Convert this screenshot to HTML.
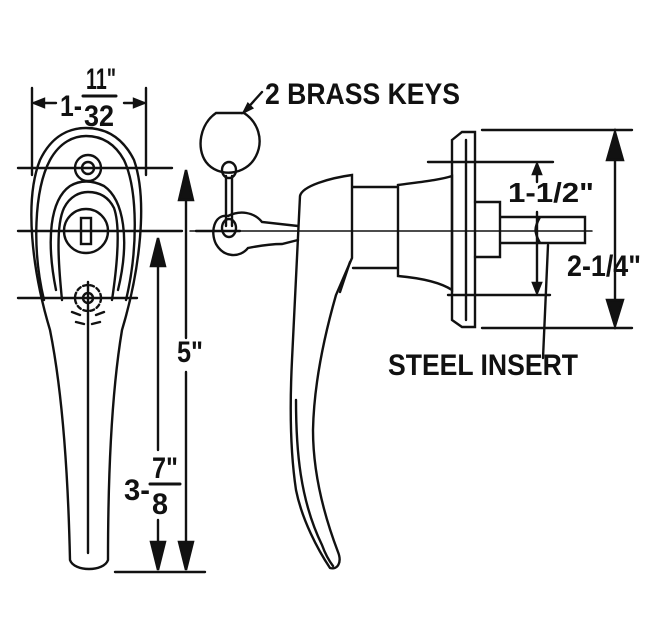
<!DOCTYPE html>
<html><head><style>html,body{margin:0;padding:0;background:#fff}svg{display:block}
text{font-family:"Liberation Sans Narrow","Liberation Sans",sans-serif;font-weight:bold;fill:#111}</style></head>
<body>
<svg width="650" height="641" viewBox="0 0 650 641" xmlns="http://www.w3.org/2000/svg" fill="none" stroke="#111" stroke-width="2.4" stroke-linecap="round">
<!-- LEFT VIEW -->
<path d="M70 560 C68 470 62 390 50 330 C32 270 24 200 40 160 C52 135 70 128 86 128 C104 128 122 136 134 160 C148 200 140 270 122 330 C112 390 108 470 108 560 C104 572 74 572 70 560 Z"/>
<path d="M44 300 C32 250 34 190 50 160 C60 142 74 136 86 136 C100 136 114 142 124 160 C138 190 138 250 126 300"/>
<path d="M56 290 C46 240 50 200 70 186 C80 180 92 180 104 186 C124 200 130 240 118 290"/>
<path d="M62 300 C58 260 56 225 64 208 C70 196 80 192 88 192 C98 192 108 196 114 208 C120 225 118 260 112 300"/>
<circle cx="86" cy="231" r="22"/>
<rect x="81" y="218" width="10" height="26"/>
<circle cx="88" cy="168" r="13"/><circle cx="88" cy="168" r="6"/>
<circle cx="88" cy="298" r="13" stroke-dasharray="4 3"/><circle cx="88" cy="298" r="5"/>
<path d="M72 312 l8 3 M104 312 l-8 3 M76 322 l8 2 M100 322 l-8 2" />
<path d="M88 282 V553"/>
<path d="M18 168 H172 M18 231 H182 M196 231 H240 M18 298 H137"/>
<path d="M32 88 V175 M146 88 V175 M34 103 H56 M124 103 H144"/>
<path d="M34 103 l10 -4 v8 z M144 103 l-10 -4 v8 z" fill="#111"/>
<path d="M115 572 H205"/>
<path d="M186 200 V338 M186 372 V567 M158 265 V450 M158 520 V567"/>
<path d="M186 170 l-7 30 h14 z M158 238 l-7 28 h14 z M186 570 l-7 -28 h14 z M158 570 l-7 -28 h14 z" fill="#111"/>
<text x="60" y="116" font-size="30" stroke="none" textLength="22" lengthAdjust="spacingAndGlyphs">1-</text>
<text x="86" y="89" font-size="30" stroke="none" textLength="30" lengthAdjust="spacingAndGlyphs">11"</text>
<path d="M83 96 H116" stroke-width="3"/>
<text x="84" y="126" font-size="30" stroke="none" textLength="30" lengthAdjust="spacingAndGlyphs">32</text>
<text x="177" y="362" font-size="30" stroke="none" textLength="26" lengthAdjust="spacingAndGlyphs">5"</text>
<text x="124" y="500" font-size="30" stroke="none" textLength="26" lengthAdjust="spacingAndGlyphs">3-</text>
<text x="152" y="478" font-size="30" stroke="none" textLength="26" lengthAdjust="spacingAndGlyphs">7"</text>
<path d="M150 484 H180" stroke-width="3"/>
<text x="152" y="514" font-size="30" stroke="none" textLength="16" lengthAdjust="spacingAndGlyphs">8</text>
<!-- KEYS -->
<path d="M216 113 H244 C258 122 264 140 256 156 C246 176 218 178 206 162 C196 148 200 124 216 113 Z"/>
<ellipse cx="229" cy="170" rx="7" ry="8"/>
<path d="M226 176 V226 M232 176 V226"/>
<path d="M262 92 L244 112"/>
<path d="M244 112 l8 -4 -4 -4 z" fill="#111"/>
<path d="M228 216 C214 214 210 232 216 244 C224 258 240 258 248 248 C258 246 270 244 282 244 L298 240 M228 216 C240 210 254 212 262 222 L298 226"/>
<ellipse cx="229" cy="228" rx="7" ry="9"/>
<text x="265" y="104" font-size="30" stroke="none" textLength="195" lengthAdjust="spacingAndGlyphs">2 BRASS KEYS</text>
<!-- HANDLE SIDE -->
<path d="M300 196 C302 186 330 178 352 175 L352 258 L336 295 C326 330 314 380 313 430 C313 470 322 510 338 552 C342 562 338 570 330 568 C318 550 302 520 296 490 C290 450 290 400 292 360 Z"/>
<path d="M296 400 C296 450 300 500 322 545 C326 556 330 562 333 566"/>
<path d="M350 262 L340 292"/>
<path d="M353 187 H398 V268 H353 M398 185 C420 182 440 180 452 176 V290 C440 282 420 278 398 276 Z"/>
<path d="M452 140 L462 132 H475 V327 H462 L452 320 Z"/>
<path d="M466 140 V320"/>
<path d="M475 202 H500 V257 H475 M500 217 H585 V243 H500 M540 217 C534 228 534 232 540 243"/>
<path d="M190 231 H592" stroke-width="1.5"/>
<!-- dims -->
<path d="M482 130 H632 M482 328 H632 M428 162 H553 M448 295 H550"/>
<path d="M615 160 V300 M537 172 V182 M537 212 V285"/>
<path d="M615 132 l-8 28 h16 z M615 326 l-8 -26 h16 z M537 164 l-4 10 h8 z M537 293 l-4 -10 h8 z" fill="#111"/>
<path d="M548 245 L543 358"/>
<text x="508" y="202" font-size="28" stroke="none" textLength="86" lengthAdjust="spacingAndGlyphs">1-1/2"</text>
<text x="567" y="276" font-size="30" stroke="none" textLength="74" lengthAdjust="spacingAndGlyphs">2-1/4"</text>
<text x="388" y="375" font-size="30" stroke="none" textLength="190" lengthAdjust="spacingAndGlyphs">STEEL INSERT</text>
</svg>
</body></html>
